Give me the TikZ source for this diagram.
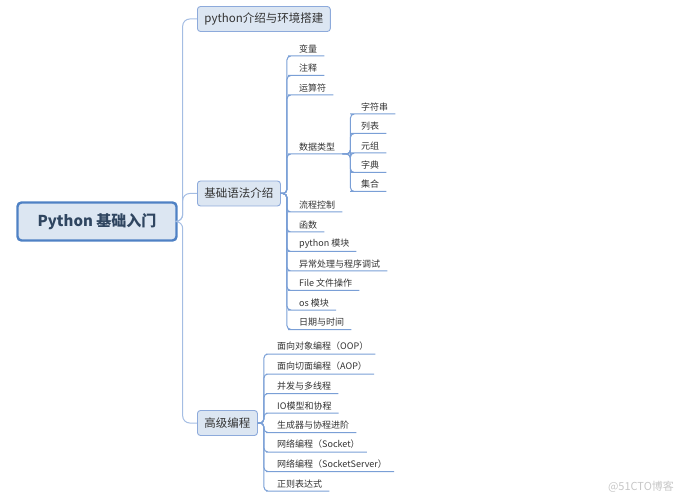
\documentclass[tikz,border=0pt]{standalone}
\usepackage{fontspec}
\setmainfont{Noto Sans CJK SC}
\usetikzlibrary{positioning}

\definecolor{trunkblue}{HTML}{A4BDE3}
\definecolor{lineblue}{HTML}{7A9FD6}
\definecolor{boxfill}{HTML}{DCE6F2}
\definecolor{boxline}{HTML}{8DAADB}
\definecolor{rootline}{HTML}{4F81C4}
\definecolor{roottext}{HTML}{2F4560}
\definecolor{itemtext}{HTML}{333333}

\begin{document}
\begin{tikzpicture}[x=1pt, y=-1pt,
    root/.style = {draw=rootline, line width=2.4pt, fill=boxfill, rounded corners=4pt, minimum width=159pt, minimum height=38pt, font=\fontsize{15}{15}\selectfont\bfseries, text=roottext},
    topic/.style = {draw=boxline, line width=0.9pt, fill=boxfill, rounded corners=3pt, inner xsep=7pt, minimum height=25pt, anchor=west, font=\fontsize{11.5}{11.5}\selectfont, text=itemtext},
    leaf/.style = {inner xsep=7pt, inner ysep=3pt, anchor=south west, font=\fontsize{9}{9}\selectfont, text=itemtext},
    trunk/.style = {draw=trunkblue, line width=1pt, rounded corners=7pt},
    twig/.style = {draw=lineblue, line width=1pt, rounded corners=4pt}]
    \useasboundingbox (0,0) rectangle (681,500);

    \node[root](py) at (97,221.5){Python 基础入门};

    \node[topic](intro) at (197,19){python介绍与环境搭建};
    \node[topic](basic) at (197,193.5){基础语法介绍};
    \node[topic](adv) at (197,423){高级编程};
    \draw[trunk] (py.east) -- ++(5,0) |- (intro.west);
    \draw[trunk] (py.east) -- ++(5,0) |- (basic.west);
    \draw[trunk] (py.east) -- ++(5,0) |- (adv.west);

    % basic syntax
    \node[leaf](var) at (292,56){变量};
    \node[leaf](note) at (292,75.5){注释};
    \node[leaf](oper) at (292,95){运算符};
    \node[leaf](dtype) at (292,154){数据类型};
    \node[leaf](flow) at (292,212){流程控制};
    \node[leaf](func) at (292,232){函数};
    \node[leaf](mod) at (292,251.5){python 模块};
    \node[leaf](exc) at (292,271){异常处理与程序调试};
    \node[leaf](file) at (292,290.5){File 文件操作};
    \node[leaf](os) at (292,310){os 模块};
    \node[leaf](date) at (292,329.5){日期与时间};
    \draw[twig] (basic.east) -- ++(6,0) |- (var.south west) -- (var.south east);
    \draw[twig] (basic.east) -- ++(6,0) |- (note.south west) -- (note.south east);
    \draw[twig] (basic.east) -- ++(6,0) |- (oper.south west) -- (oper.south east);
    \draw[twig] (basic.east) -- ++(6,0) |- (dtype.south west) -- (dtype.south east);
    \draw[twig] (basic.east) -- ++(6,0) |- (flow.south west) -- (flow.south east);
    \draw[twig] (basic.east) -- ++(6,0) |- (func.south west) -- (func.south east);
    \draw[twig] (basic.east) -- ++(6,0) |- (mod.south west) -- (mod.south east);
    \draw[twig] (basic.east) -- ++(6,0) |- (exc.south west) -- (exc.south east);
    \draw[twig] (basic.east) -- ++(6,0) |- (file.south west) -- (file.south east);
    \draw[twig] (basic.east) -- ++(6,0) |- (os.south west) -- (os.south east);
    \draw[twig] (basic.east) -- ++(6,0) |- (date.south west) -- (date.south east);

    % data types
    \node[leaf](str) at (354,114){字符串};
    \node[leaf](list) at (354,133.5){列表};
    \node[leaf](tup) at (354,153){元组};
    \node[leaf](dict) at (354,172.5){字典};
    \node[leaf](set) at (354,191.5){集合};
    \draw[twig] (dtype.south east) -- ++(8,0) |- (str.south west) -- (str.south east);
    \draw[twig] (dtype.south east) -- ++(8,0) |- (list.south west) -- (list.south east);
    \draw[twig] (dtype.south east) -- ++(8,0) |- (tup.south west) -- (tup.south east);
    \draw[twig] (dtype.south east) -- ++(8,0) |- (dict.south west) -- (dict.south east);
    \draw[twig] (dtype.south east) -- ++(8,0) |- (set.south west) -- (set.south east);

    % advanced
    \node[leaf](oop) at (270,354){面向对象编程（OOP）};
    \node[leaf](aop) at (270,374){面向切面编程（AOP）};
    \node[leaf](thread) at (270,393.5){并发与多线程};
    \node[leaf](io) at (270,413){IO模型和协程};
    \node[leaf](gen) at (270,432.5){生成器与协程进阶};
    \node[leaf](sock) at (270,452){网络编程（Socket）};
    \node[leaf](sserv) at (270,471.5){网络编程（SocketServer）};
    \node[leaf](re) at (270,491){正则表达式};
    \draw[twig] (adv.east) -- ++(6,0) |- (oop.south west) -- (oop.south east);
    \draw[twig] (adv.east) -- ++(6,0) |- (aop.south west) -- (aop.south east);
    \draw[twig] (adv.east) -- ++(6,0) |- (thread.south west) -- (thread.south east);
    \draw[twig] (adv.east) -- ++(6,0) |- (io.south west) -- (io.south east);
    \draw[twig] (adv.east) -- ++(6,0) |- (gen.south west) -- (gen.south east);
    \draw[twig] (adv.east) -- ++(6,0) |- (sock.south west) -- (sock.south east);
    \draw[twig] (adv.east) -- ++(6,0) |- (sserv.south west) -- (sserv.south east);
    \draw[twig] (adv.east) -- ++(6,0) |- (re.south west) -- (re.south east);

    \node[text=black!22, font=\fontsize{11}{11}\selectfont](mark) at (641,487){@51CTO博客};
\end{tikzpicture}
\end{document}
